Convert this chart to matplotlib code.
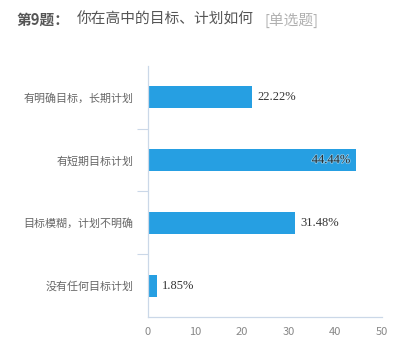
import matplotlib.pyplot as plt
import matplotlib.patheffects as pe

plt.rcParams['font.family'] = ['Noto Sans CJK SC', 'DejaVu Sans']

categories = ['有明确目标，长期计划', '有短期目标计划', '目标模糊，计划不明确', '没有任何目标计划']
values = [22.22, 44.44, 31.48, 1.85]
xticks = [0, 10, 20, 30, 40, 50]

bar_color = '#269fe2'
axis_color = '#cbd8e8'

fig = plt.figure(figsize=(4.09, 3.51), dpi=100)
ax = fig.add_axes([0.362, 0.097, 0.572, 0.715])

ypos = list(range(len(categories)))
ax.barh(ypos, values, height=0.35, color=bar_color)
ax.set_ylim(len(categories) - 0.5, -0.5)
ax.set_xlim(0, 50)

ax.set_yticks(ypos)
ax.set_yticklabels(categories, fontsize=7.9, color='#666666')
ax.set_yticks([i + 0.5 for i in ypos[:-1]], minor=True)
ax.tick_params(axis='y', which='major', length=0, pad=10.5)
ax.tick_params(axis='y', which='minor', length=8, color=axis_color, width=0.8)
ax.set_xticks(xticks)
ax.set_xticklabels([str(t) for t in xticks], fontsize=8, color='#888888')
ax.tick_params(axis='x', length=0, pad=7)

for s in ['top', 'right']:
    ax.spines[s].set_visible(False)
for s in ['left', 'bottom']:
    ax.spines[s].set_color(axis_color)
    ax.spines[s].set_linewidth(0.9)

for y, v in zip(ypos, values):
    txt = '%.2f%%' % v
    if v > 40:
        t = ax.text(v - 1.2, y, txt, ha='right', va='center', fontsize=9,
                    family='Liberation Serif', color='#2a2a2a')
        t.set_path_effects([pe.withStroke(linewidth=1.2, foreground='#7cc6ef')])
    else:
        ax.text(v + 1.1, y, txt, ha='left', va='center', fontsize=9,
                family='Liberation Serif', color='#333333')

fig.text(16 / 409, 1 - 20 / 351, '第9题：', fontsize=10.6, fontweight='bold',
         color='#555555', va='center')
fig.text(77 / 409, 1 - 20 / 351, '你在高中的目标、计划如何', fontsize=10.6,
         color='#555555', va='center')
fig.text(264 / 409, 1 - 20 / 351, '[单选题]', fontsize=10.6,
         color='#b0b0b0', va='center')

fig.savefig('out.png', dpi=100, facecolor='white')
